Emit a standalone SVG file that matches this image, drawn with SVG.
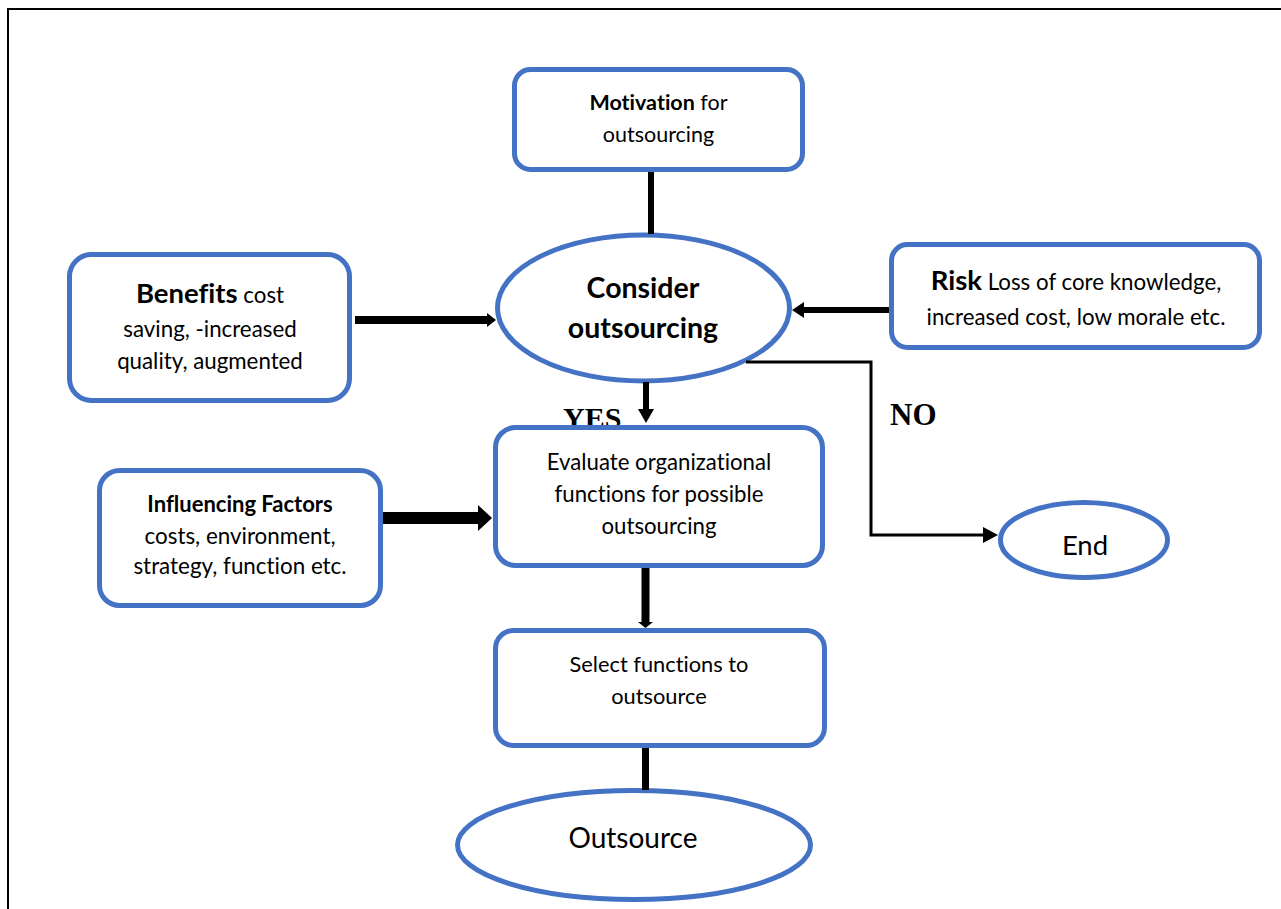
<svg xmlns="http://www.w3.org/2000/svg" width="1281" height="909" viewBox="0 0 1281 909">
<style>
.box{fill:#fff;stroke:#4472C4;stroke-width:5}
.t{font-family:Lato,"Liberation Sans",sans-serif;fill:#000;text-anchor:middle;font-variant-ligatures:none;font-feature-settings:"liga" 0}
.b{font-weight:bold}
.ln{stroke:#000;fill:none}
.ah{fill:#000}
.lbl{font-family:"Liberation Serif",serif;font-weight:bold;fill:#000}
</style>
<rect width="1281" height="909" fill="#fff"/>
<path d="M8,909 V9 H1281" fill="none" stroke="#000" stroke-width="2"/>
<g id="labels-under">
<text class="lbl" x="563" y="428" font-size="30">YES</text>
</g>
<g id="motivation">
<rect class="box" x="514.5" y="69.5" width="288" height="100" rx="16"/>
<text class="t" font-size="21.5" x="658.5" y="110"><tspan class="b">Motivation</tspan> for</text>
<text class="t" font-size="21.5" x="658.5" y="142">outsourcing</text>
</g>
<g id="consider">
<ellipse class="box" cx="643.5" cy="308" rx="146" ry="73"/>
<text class="t b" font-size="28.5" x="643" y="298">Consider</text>
<text class="t b" font-size="28.5" x="643" y="338">outsourcing</text>
</g>
<g id="benefits">
<rect class="box" x="69.5" y="254.5" width="280" height="146" rx="22"/>
<text class="t" font-size="22.3" x="210" y="303"><tspan class="b" font-size="27.5">Benefits</tspan> cost</text>
<text class="t" font-size="22.3" x="210" y="337">saving, -increased</text>
<text class="t" font-size="22.3" x="210" y="369">quality, augmented</text>
</g>
<g id="risk">
<rect class="box" x="891.5" y="244.5" width="368" height="103" rx="16"/>
<text class="t" font-size="22.3" x="1076" y="290"><tspan class="b" font-size="27.5">Risk</tspan> Loss of core knowledge,</text>
<text class="t" font-size="22.3" x="1076" y="325">increased cost, low morale etc.</text>
</g>
<g id="influencing">
<rect class="box" x="99.5" y="470.5" width="281" height="135" rx="20"/>
<text class="t b" font-size="22" x="240" y="512">Influencing Factors</text>
<text class="t" font-size="22.4" x="240" y="544">costs, environment,</text>
<text class="t" font-size="22.4" x="240" y="574">strategy, function etc.</text>
</g>
<g id="evaluate">
<rect class="box" x="495.5" y="427.5" width="327" height="138" rx="20"/>
<text class="t" font-size="22.2" x="659" y="470">Evaluate organizational</text>
<text class="t" font-size="22.2" x="659" y="502">functions for possible</text>
<text class="t" font-size="22.2" x="659" y="534">outsourcing</text>
</g>
<g id="select">
<rect class="box" x="495.5" y="630.5" width="329" height="115" rx="18"/>
<text class="t" font-size="21.8" x="659" y="672">Select functions to</text>
<text class="t" font-size="21.8" x="659" y="704">outsource</text>
</g>
<g id="end">
<ellipse class="box" cx="1084" cy="540" rx="83.5" ry="37.5"/>
<text class="t" font-size="27.5" x="1085" y="555">End</text>
</g>
<g id="outsource">
<ellipse class="box" cx="634" cy="845" rx="176.5" ry="54.5"/>
<text class="t" font-size="28" x="633" y="848">Outsource</text>
</g>
<g id="connectors">
<line class="ln" x1="651" y1="172" x2="651" y2="234" stroke-width="6"/>
<line class="ln" x1="355" y1="320" x2="488" y2="320" stroke-width="8"/>
<polygon class="ah" points="487,313 496,320 487,327"/>
<line class="ln" x1="889" y1="310" x2="802" y2="310" stroke-width="6"/>
<polygon class="ah" points="804,302 792,310 804,318"/>
<line class="ln" x1="646" y1="382" x2="646" y2="411" stroke-width="6"/>
<polygon class="ah" points="638,409 646,423 654,409"/>
<path class="ln" d="M746,362 H871 V535 H985" stroke-width="3"/>
<polygon class="ah" points="983,527 998,535 983,543"/>
<line class="ln" x1="383" y1="518" x2="480" y2="518" stroke-width="12"/>
<polygon class="ah" points="478,505 492,518 478,531"/>
<line class="ln" x1="645.5" y1="568" x2="645.5" y2="623" stroke-width="8"/>
<polygon class="ah" points="638,622 645.5,628 653,622"/>
<line class="ln" x1="645.5" y1="748" x2="645.5" y2="790" stroke-width="7"/>
</g>
<g id="labels">
<text class="lbl" x="890" y="425" font-size="31">NO</text>
</g>
</svg>
